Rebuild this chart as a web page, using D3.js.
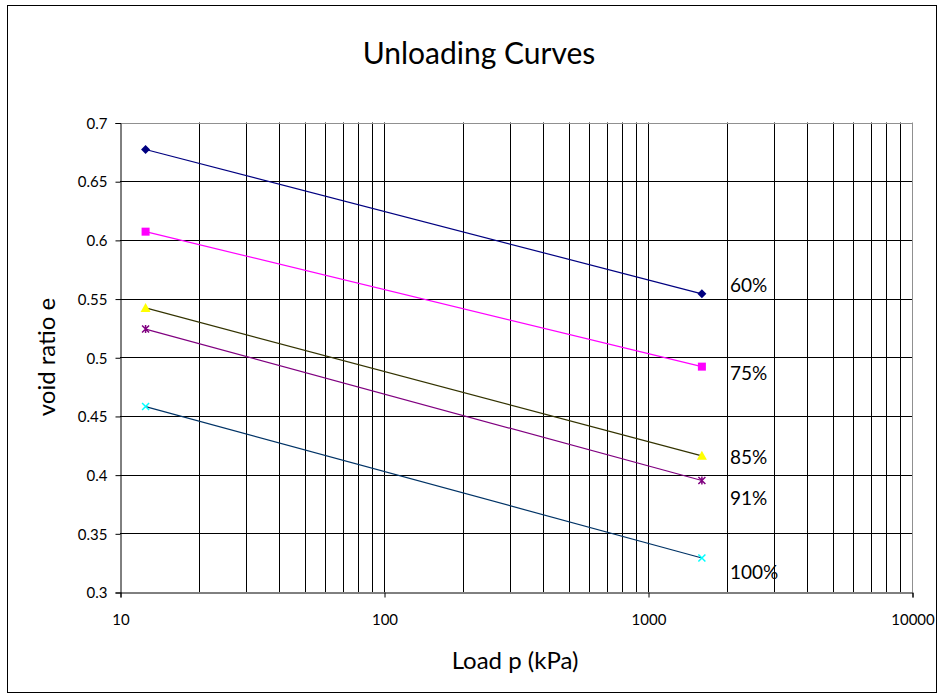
<!DOCTYPE html>
<html><head><meta charset="utf-8">
<script src="https://cdn.jsdelivr.net/npm/d3@7"></script>
<style>body{margin:0;background:#fff;} text{font-family:Lato,"Open Sans",sans-serif;}</style>
</head><body><svg id="c" width="939" height="695"></svg>
<script>
const seriesNames = ["60%","75%","85%","91%","100%"];
const loads = [12.5, 1600];
const e60 = [0.677, 0.554];
const e75 = [0.607, 0.492];
const e85 = [0.542, 0.416];
const e91 = [0.524, 0.395];
const e100 = [0.458, 0.329];
const yTicks = [0.3,0.35,0.4,0.45,0.5,0.55,0.6,0.65,0.7];
const xTicks = [10,100,1000,10000];

const series = [e60,e75,e85,e91,e100];
const lineColors = ["#000080","#ff00ff","#333300","#800080","#003366"];
const markColors = ["#000080","#ff00ff","#ffff00","#800080","#00ffff"];
const markTypes = ["diamond","square","triangle","star","x"];
const labelDy = [-9, 7, 2, 18, 14];

const svg = d3.select("#c");
svg.append("rect").attr("x",7.5).attr("y",5.5).attr("width",929).attr("height",687)
  .attr("fill","#fff").attr("stroke","#000").attr("stroke-width",1);

const L=120, R=912, T=122.5, B=592;
const x = d3.scaleLog().domain([10,10000]).range([L,R]);
const y = d3.scaleLinear().domain([0.3,0.7]).range([B,T]);

const minors=[];
for(let d=10; d<10000; d*=10){ for(let k=1;k<=9;k++){ minors.push(d*k);} }
const g = svg.append("g");
g.selectAll("line.v").data(minors.filter(v=>v>10)).enter().append("line")
  .attr("x1",d=>Math.round(x(d))+0.5).attr("x2",d=>Math.round(x(d))+0.5)
  .attr("y1",T).attr("y2",B).attr("stroke","#000").attr("stroke-width",1);
g.selectAll("line.h").data(yTicks.filter(v=>v>0.3&&v<0.7)).enter().append("line")
  .attr("x1",L).attr("x2",R).attr("y1",d=>Math.round(y(d))+0.5).attr("y2",d=>Math.round(y(d))+0.5)
  .attr("stroke","#000").attr("stroke-width",1);
svg.append("line").attr("x1",L).attr("x2",R+0.5).attr("y1",Math.round(T)+0.5).attr("y2",Math.round(T)+0.5).attr("stroke","#909090");
svg.append("line").attr("x1",R+0.5).attr("x2",R+0.5).attr("y1",T).attr("y2",B).attr("stroke","#909090");

const yAxis = d3.axisLeft(y).tickValues(yTicks).tickSize(5).tickPadding(8).tickFormat(d=>String(+d.toFixed(2)));
const ya = svg.append("g").attr("transform",`translate(${L+0.5},0.5)`).call(yAxis);
const xAxis = d3.axisBottom(x).tickValues(xTicks).tickSize(5).tickPadding(17).tickFormat(d=>String(d));
const xa = svg.append("g").attr("transform",`translate(0.5,${Math.round(B)+0.5})`).call(xAxis);
[ya,xa].forEach(a=>{a.select(".domain").attr("stroke","#000");a.selectAll(".tick line").attr("stroke","#000");
  a.selectAll("text").attr("font-size",15).attr("fill","#000").style("font-family","Lato,'Open Sans',sans-serif");});
ya.selectAll("text").attr("dy","0.35em");

const line = d3.line().x((d,i)=>x(loads[i])).y(d=>y(d));
series.forEach((s,si)=>{
  svg.append("path").attr("d",line(s)).attr("fill","none").attr("stroke",lineColors[si]).attr("stroke-width",1.2);
  const mg = svg.append("g");
  s.forEach((v,i)=>{
    const px=x(loads[i]), py=y(v), c=markColors[si];
    const t=markTypes[si];
    if(t==="diamond") mg.append("path").attr("d",`M${px},${py-4.5}L${px+4.5},${py}L${px},${py+4.5}L${px-4.5},${py}Z`).attr("fill",c);
    else if(t==="square") mg.append("rect").attr("x",px-4).attr("y",py-4).attr("width",8).attr("height",8).attr("fill",c);
    else if(t==="triangle") mg.append("path").attr("d",`M${px},${py-5}L${px+5},${py+4}L${px-5},${py+4}Z`).attr("fill",c);
    else if(t==="star"){ mg.append("path").attr("d",`M${px-3.5},${py-3.5}L${px+3.5},${py+3.5}M${px-3.5},${py+3.5}L${px+3.5},${py-3.5}M${px},${py-4}L${px},${py+4}`).attr("stroke",c).attr("stroke-width",1.5);}
    else mg.append("path").attr("d",`M${px-3.5},${py-3.5}L${px+3.5},${py+3.5}M${px-3.5},${py+3.5}L${px+3.5},${py-3.5}`).attr("stroke",c).attr("stroke-width",1.5);
  });
  svg.append("text").attr("x",x(loads[1])+28).attr("y",y(s[1])+labelDy[si]).attr("dy","0.35em")
    .attr("font-size",19).attr("fill","#000").text(seriesNames[si]);
});

svg.append("text").attr("x",479).attr("y",64).attr("text-anchor","middle").attr("font-size",30).attr("fill","#000").text("Unloading Curves");
svg.append("text").attr("x",515).attr("y",669).attr("text-anchor","middle").attr("font-size",24).attr("fill","#000").text("Load p (kPa)");
svg.append("text").attr("transform","translate(55,357) rotate(-90)").attr("text-anchor","middle").attr("font-size",24).attr("fill","#000").text("void ratio e");
</script></body></html>
